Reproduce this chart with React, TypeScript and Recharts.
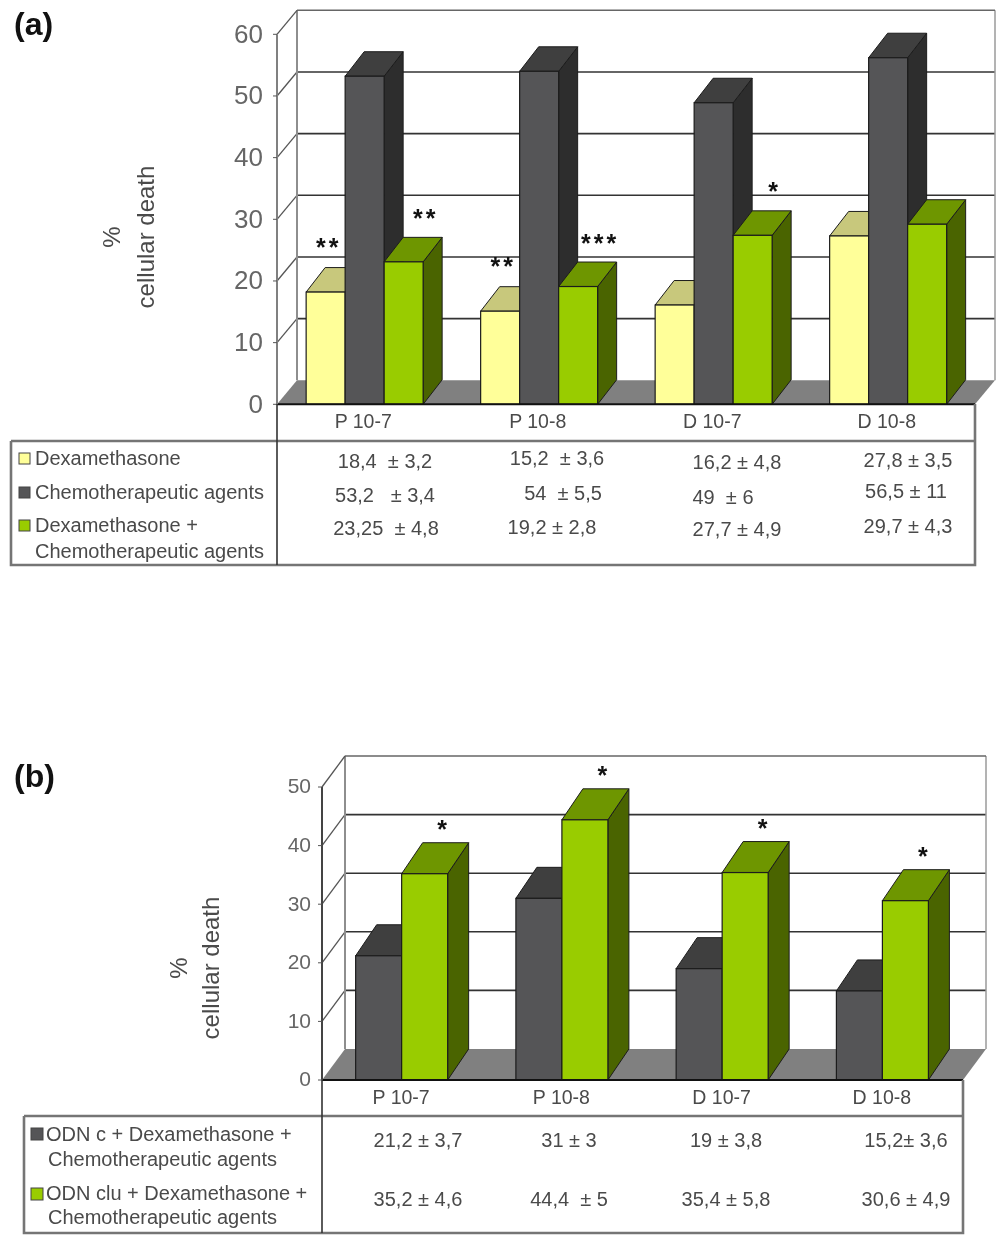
import React from "react";
import { BarChart, Bar, XAxis, YAxis, CartesianGrid } from "recharts";

const categories = ["P 10-7", "P 10-8", "D 10-7", "D 10-8"];
const dexamethasone = [18.2, 15.1, 16.1, 27.3];
const chemo = [53.2, 54, 48.9, 56.2];
const dexChemo = [23.1, 19.1, 27.4, 29.2];
const dexMarks = ["**", "**", "", ""];
const dexChemoMarks = ["**", "***", "*", ""];
const odnC = [21.2, 31, 19, 15.2];
const odnClu = [35.2, 44.4, 35.4, 30.6];
const odnCluMarks = ["*", "*", "*", "*"];
const ticksA = [0, 10, 20, 30, 40, 50, 60];
const ticksB = [0, 10, 20, 30, 40, 50];
const tableDex = ["18,4  ± 3,2", "15,2  ± 3,6", "16,2 ± 4,8", "27,8 ± 3,5"];
const tableChemo = ["53,2   ± 3,4", "54  ± 5,5", "49  ± 6", "56,5 ± 11"];
const tableDexChemo = ["23,25  ± 4,8", "19,2 ± 2,8", "27,7 ± 4,9", "29,7 ± 4,3"];
const tableOdnC = ["21,2 ± 3,7", "31 ± 3", "19 ± 3,8", "15,2± 3,6"];
const tableOdnClu = ["35,2 ± 4,6", "44,4  ± 5", "35,4 ± 5,8", "30,6 ± 4,9"];

const YELLOW = { front: "#FFFF99", top: "#C8C87C", side: "#8f8f5c" };
const GREY = { front: "#555557", top: "#3f3f3f", side: "#2d2d2d" };
const GREEN = { front: "#99CC00", top: "#6E9600", side: "#4A6400" };
const FONT = "'Liberation Sans', Arial, sans-serif";
const TXT = "#4a4a4a";

function makeShape(c: any, dx: number, dy: number, marks: string[] | null, mx: number, my: number) {
  return (p: any) => {
    const { x, y, width: w, height: h, index } = p;
    const m = marks ? marks[index] : "";
    return (
      <g>
        <path d={`M${x + w},${y} L${x + w + dx},${y + dy} L${x + w + dx},${y + h + dy} L${x + w},${y + h} Z`} fill={c.side} stroke="#1c1c1c" strokeWidth={1} />
        <path d={`M${x},${y} L${x + dx},${y + dy} L${x + w + dx},${y + dy} L${x + w},${y} Z`} fill={c.top} stroke="#1c1c1c" strokeWidth={1} />
        <rect x={x} y={y} width={w} height={h} fill={c.front} stroke="#1c1c1c" strokeWidth={1.2} />
        {m ? (
          <text x={x + w / 2 + mx} y={y + my} textAnchor="middle" fontFamily={FONT} fontWeight="bold" fontSize={25} letterSpacing={3} fill="#111">
            {m}
          </text>
        ) : null}
      </g>
    );
  };
}

function makeGridLine(L: number, R: number, T: number, B: number, dx: number, dy: number) {
  return (p: any) => {
    const y = p.y1;
    const isBase = Math.abs(y - B) < 1;
    const isTop = Math.abs(y - T) < 1;
    return (
      <g key={p.key}>
        {isBase ? <path d={`M${L},${B} L${L + dx},${B + dy} L${R + dx},${B + dy} L${R},${B} Z`} fill="#808080" /> : null}
        {isTop ? <line x1={L + dx} y1={T + dy} x2={L + dx} y2={B + dy} stroke="#8e8e8e" strokeWidth={2} /> : null}
        {isTop ? <line x1={R + dx} y1={T + dy} x2={R + dx} y2={B + dy} stroke="#9a9a9a" strokeWidth={1.5} /> : null}
        {!isBase ? <line x1={L + dx} y1={y + dy} x2={R + dx} y2={y + dy} stroke={isTop ? "#666" : "#333"} strokeWidth={1.6} /> : null}
        {!isBase ? <line x1={L} y1={y} x2={L + dx} y2={y + dy} stroke="#555" strokeWidth={1.3} /> : null}
      </g>
    );
  };
}

function Panel(props: any) {
  const { top, height, L, R, T, B, wallDx, wallDy, barDx, barDy, ticks, max, gap, series, tickFont, tickGap, axisColor } = props;
  const data = categories.map((name, i) => {
    const row: any = { name };
    series.forEach((s: any) => (row[s.key] = s.values[i]));
    return row;
  });
  const yW = 60;
  return (
    <div style={{ position: "absolute", left: 0, top, width: 1004, height }}>
      <BarChart
        width={1004}
        height={height}
        data={data}
        barGap={0}
        barCategoryGap={gap}
        margin={{ left: L - yW, right: 1004 - R, top: T, bottom: height - B - 30 }}
      >
        <CartesianGrid vertical={false} horizontal={makeGridLine(L, R, T, B, wallDx, wallDy)} syncWithTicks />
        <XAxis
          dataKey="name"
          height={30}
          interval={0}
          tickLine={false}
          axisLine={{ stroke: "#111", strokeWidth: 2 }}
          tick={{ fontFamily: FONT, fontSize: 19.5, fill: TXT, dx: -1 }}
          tickMargin={4}
        />
        <YAxis
          width={yW}
          domain={[0, max]}
          ticks={ticks}
          interval={0}
          tickSize={4}
          tickMargin={tickGap}
          axisLine={{ stroke: axisColor, strokeWidth: 2 }}
          tickLine={{ stroke: "#555" }}
          tick={{ fontFamily: FONT, fontSize: tickFont, fill: "#666", dy: -1 }}
        />
        {series.map((s: any) => (
          <Bar
            key={s.key}
            dataKey={s.key}
            isAnimationActive={false}
            shape={makeShape(s.colors, barDx, barDy, s.marks, s.mx, s.my)}
          />
        ))}
      </BarChart>
    </div>
  );
}

function T(p: any) {
  return (
    <text x={p.x} y={p.y} textAnchor={p.anchor || "middle"} dominantBaseline="central" fontFamily={FONT} fontSize={p.size || 20} fill={p.fill || TXT} style={{ whiteSpace: "pre" }} transform={p.transform}>
      {p.children}
    </text>
  );
}

function Overlay() {
  const line = "#757575";
  return (
    <svg width={1004} height={1243} style={{ position: "absolute", left: 0, top: 0 }}>
      {/* panel a table */}
      <path d="M11,441 H975 V404 M11,441 V565 H975 V441" fill="none" stroke={line} strokeWidth={2.6} />
      <path d="M277,404 V565" fill="none" stroke="#333" strokeWidth={1.6} />
      <rect x={19} y={453} width={11} height={11} fill={YELLOW.front} stroke="#444" />
      <rect x={19} y={487} width={11} height={11} fill={GREY.front} stroke="#444" />
      <rect x={19} y={520} width={11} height={11} fill={GREEN.front} stroke="#444" />
      <T x={35} y={458} anchor="start">Dexamethasone</T>
      <T x={35} y={492} anchor="start">Chemotherapeutic agents</T>
      <T x={35} y={525} anchor="start">Dexamethasone +</T>
      <T x={35} y={551} anchor="start">Chemotherapeutic agents</T>
      {tableDex.map((t, i) => <T key={t} x={[385, 557, 737, 908][i]} y={[461, 458, 462, 460][i]}>{t}</T>)}
      {tableChemo.map((t, i) => <T key={t} x={[385, 563, 723, 906][i]} y={[495, 493, 497, 491][i]}>{t}</T>)}
      {tableDexChemo.map((t, i) => <T key={t} x={[386, 552, 737, 908][i]} y={[528, 527, 529, 526][i]}>{t}</T>)}
      <T x={0} y={0} size={24} transform="translate(111,237) rotate(-90)">%</T>
      <T x={0} y={0} size={24} transform="translate(145,237) rotate(-90)">cellular death</T>
      {/* panel b table */}
      <path d="M24,1116 H963 V1080 M24,1116 V1233 H963 V1116" fill="none" stroke={line} strokeWidth={2.6} />
      <path d="M322,1080 V1233" fill="none" stroke="#333" strokeWidth={1.6} />
      <rect x={31} y={1128} width={12} height={12} fill={GREY.front} stroke="#444" />
      <rect x={31} y={1188} width={12} height={12} fill={GREEN.front} stroke="#444" />
      <T x={46} y={1134} anchor="start">ODN c + Dexamethasone +</T>
      <T x={48} y={1159} anchor="start">Chemotherapeutic agents</T>
      <T x={46} y={1193} anchor="start">ODN clu + Dexamethasone +</T>
      <T x={48} y={1217} anchor="start">Chemotherapeutic agents</T>
      {tableOdnC.map((t, i) => <T key={t} x={[418, 569, 726, 906][i]} y={1140}>{t}</T>)}
      {tableOdnClu.map((t, i) => <T key={t} x={[418, 569, 726, 906][i]} y={1199}>{t}</T>)}
      <T x={0} y={0} size={24} transform="translate(178,968) rotate(-90)">%</T>
      <T x={0} y={0} size={24} transform="translate(210,968) rotate(-90)">cellular death</T>
    </svg>
  );
}

const Title = ({ top, text }: any) => (
  <div style={{ position: "absolute", left: 14, top, fontFamily: FONT, fontWeight: "bold", fontSize: 32, color: "#111", lineHeight: "36px" }}>{text}</div>
);

export default function App() {
  const seriesA = [
    { key: "Dexamethasone", values: dexamethasone, colors: YELLOW, marks: dexMarks, mx: 3, my: -36 },
    { key: "Chemotherapeutic agents", values: chemo, colors: GREY, marks: null, mx: 0, my: 0 },
    { key: "Dexamethasone + Chemotherapeutic agents", values: dexChemo, colors: GREEN, marks: dexChemoMarks, mx: 22, my: -35 },
  ];
  const seriesB = [
    { key: "ODN c + Dexamethasone + Chemotherapeutic agents", values: odnC, colors: GREY, marks: null, mx: 0, my: 0 },
    { key: "ODN clu + Dexamethasone + Chemotherapeutic agents", values: odnClu, colors: GREEN, marks: odnCluMarks, mx: 19, my: -36 },
  ];
  return (
    <div style={{ position: "absolute", left: 0, top: 0, width: 1004, height: 1243, overflow: "hidden", background: "#fff", filter: "blur(0.45px)" }}>
      <Panel top={0} height={600} L={277} R={975} T={34.3} B={404.3} wallDx={20} wallDy={-24} barDx={19} barDy={-24.5} ticks={ticksA} max={60} gap="16.7%" series={seriesA} tickFont={26} tickGap={10} axisColor="#808080" />
      <Panel top={0} height={1243} L={322} R={963} T={787} B={1080} wallDx={23} wallDy={-31} barDx={21} barDy={-31} ticks={ticksB} max={50} gap="21%" series={seriesB} tickFont={21} tickGap={7} axisColor="#444" />
      <Overlay />
      <Title top={6} text="(a)" />
      <Title top={758} text="(b)" />
    </div>
  );
}
